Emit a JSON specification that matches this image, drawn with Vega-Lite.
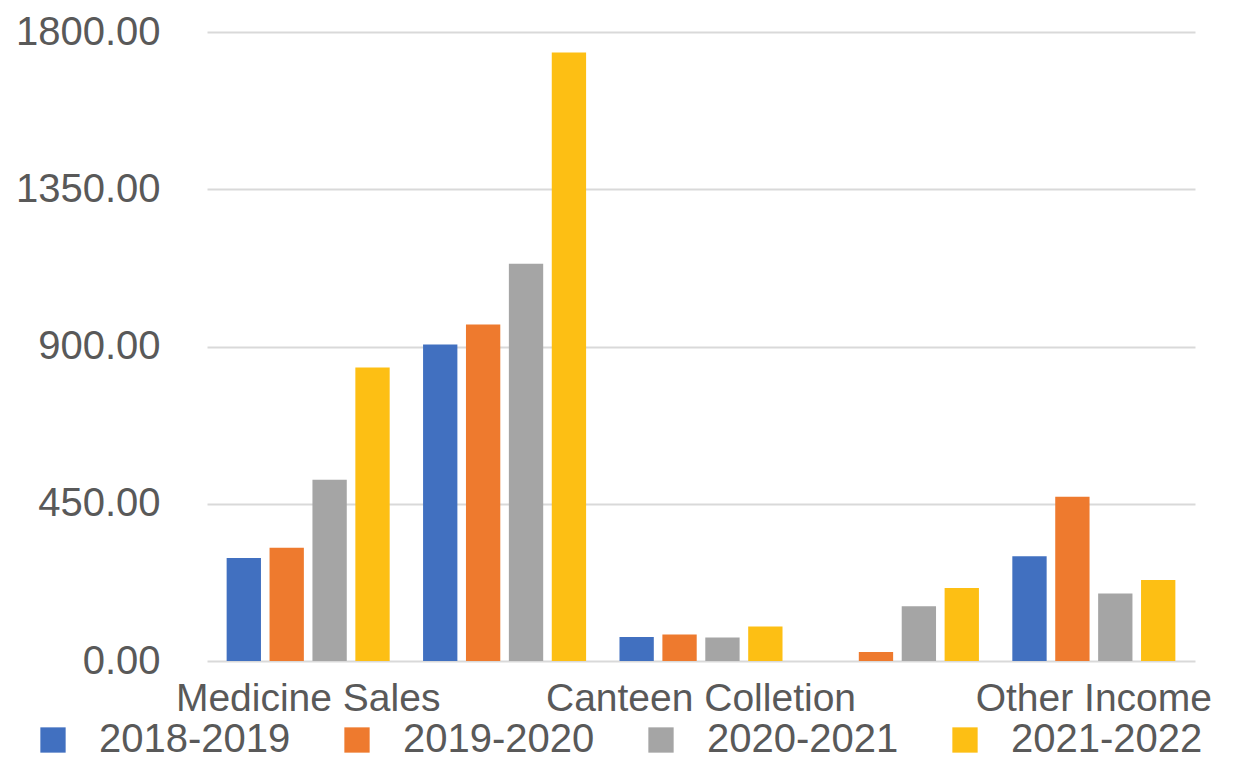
{
  "$schema": "https://vega.github.io/schema/vega-lite/v6.json",
  "description": "Grouped bar chart of income by head, 2018-2022.",
  "autosize": "none",
  "width": 988,
  "height": 629,
  "padding": {"left": 207, "top": 32, "right": 40, "bottom": 99},
  "data": {
    "values": [
      {"head": "Medicine Sales", "year": "2018-2019", "amount": 295},
      {"head": "Medicine Sales", "year": "2019-2020", "amount": 324},
      {"head": "Medicine Sales", "year": "2020-2021", "amount": 519},
      {"head": "Medicine Sales", "year": "2021-2022", "amount": 840},
      {"head": " ", "year": "2018-2019", "amount": 906},
      {"head": " ", "year": "2019-2020", "amount": 963},
      {"head": " ", "year": "2020-2021", "amount": 1137},
      {"head": " ", "year": "2021-2022", "amount": 1741},
      {"head": "Canteen Colletion", "year": "2018-2019", "amount": 69},
      {"head": "Canteen Colletion", "year": "2019-2020", "amount": 76},
      {"head": "Canteen Colletion", "year": "2020-2021", "amount": 67},
      {"head": "Canteen Colletion", "year": "2021-2022", "amount": 99},
      {"head": "  ", "year": "2018-2019", "amount": 0},
      {"head": "  ", "year": "2019-2020", "amount": 26},
      {"head": "  ", "year": "2020-2021", "amount": 157},
      {"head": "  ", "year": "2021-2022", "amount": 209},
      {"head": "Other Income", "year": "2018-2019", "amount": 300},
      {"head": "Other Income", "year": "2019-2020", "amount": 470},
      {"head": "Other Income", "year": "2020-2021", "amount": 193},
      {"head": "Other Income", "year": "2021-2022", "amount": 232}
    ]
  },
  "mark": {"type": "bar"},
  "encoding": {
    "x": {
      "field": "head",
      "type": "nominal",
      "sort": null,
      "title": null,
      "scale": {"paddingInner": 0.17, "paddingOuter": 0.1},
      "axis": {
        "labelAngle": 0,
        "labelFontSize": 39,
        "labelPadding": 18,
        "labelOverlap": false,
        "labelBound": false,
        "labelLimit": 500,
        "ticks": false,
        "domain": false
      }
    },
    "xOffset": {
      "field": "year",
      "type": "nominal",
      "scale": {"paddingInner": 0.2, "paddingOuter": 0}
    },
    "y": {
      "field": "amount",
      "type": "quantitative",
      "title": null,
      "scale": {"domain": [0, 1800], "nice": false},
      "axis": {
        "values": [0, 450, 900, 1350, 1800],
        "format": ".2f",
        "labelFontSize": 40,
        "labelPadding": 47,
        "ticks": false,
        "domain": false,
        "gridColor": "#D9D9D9",
        "gridWidth": 2
      }
    },
    "color": {
      "field": "year",
      "type": "nominal",
      "scale": {"range": ["#4170C0", "#EE7A2E", "#A5A5A5", "#FDBF14"]},
      "legend": {
        "title": null,
        "orient": "none",
        "direction": "horizontal",
        "columns": 4,
        "legendX": -174,
        "legendY": 688,
        "padding": 0,
        "symbolType": "square",
        "symbolSize": 640,
        "symbolStrokeWidth": 0,
        "symbolOpacity": 1,
        "labelFontSize": 40,
        "labelOffset": 26,
        "columnPadding": 46,
        "labelLimit": 400
      }
    }
  },
  "config": {
    "font": "Liberation Sans",
    "view": {"stroke": null},
    "axis": {"labelColor": "#595959"},
    "legend": {"labelColor": "#595959"}
  }
}
